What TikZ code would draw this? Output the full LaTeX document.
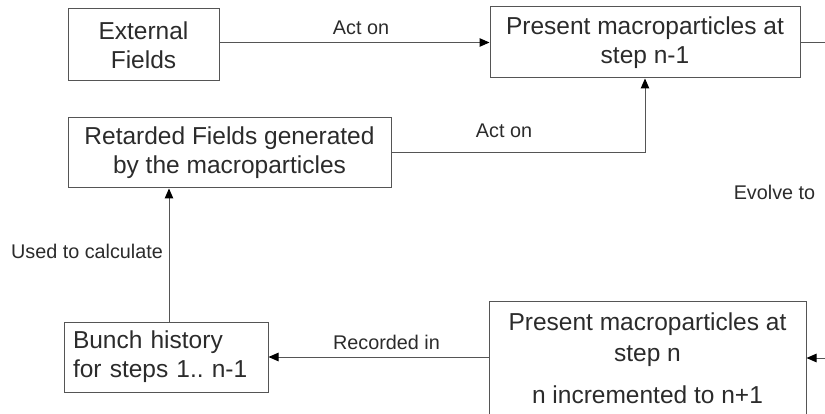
\documentclass[tikz,border=0pt]{standalone}
\usepackage{fontspec}
\setmainfont{Liberation Sans}
\usetikzlibrary{arrows.meta}
\definecolor{textgray}{HTML}{2B2B2B}
\definecolor{linegray}{HTML}{555555}
\newcommand{\boxfont}{\fontsize{24.5}{29}\selectfont\frenchspacing}
\newcommand{\lblfont}{\fontsize{19.8}{24}\selectfont}
\begin{document}
\begin{tikzpicture}[x=1pt,y=-1pt,
  box/.style={draw=linegray, line width=1pt, text=textgray, font=\boxfont, align=center, inner sep=0pt},
  lbl/.style={font=\lblfont, text=textgray, inner sep=0pt},
  plain/.style={draw=linegray, line width=1pt},
  conn/.style={plain, -{Triangle[length=10pt,width=8.5pt,fill=black,color=black]}}]
\clip (0,0) rectangle (825,414);
\useasboundingbox (0,0) rectangle (825,414);
% boxes
\node[box, minimum width=151pt, minimum height=72pt] (ext) at (143.5,45) {External\\Fields};
\node[box, minimum width=310pt, minimum height=71pt] (pn1) at (645,42.5) {Present macroparticles at\\step n-1};
\node[box, minimum width=323pt, minimum height=70pt] (ret) at (229.5,153) {Retarded Fields generated\\by the macroparticles};
\node[box, align=left, text width=186pt, inner xsep=9pt, minimum height=70pt] (bun) at (166,357) {Bunch history\\for steps 1.. n-1};
\node[box, minimum width=317pt, minimum height=115pt] (pn) at (647.5,358.5) {Present macroparticles at\\[2pt]step n\\[13pt]n incremented to n+1};
% free ends
\coordinate (outR) at (825,42.5);
\coordinate (inR) at (825,358);
% connectors
\draw[conn] (ext.east |- pn1.west) -- (pn1.west);
\draw[plain] (pn1.east) -- (outR);
\draw[conn] (ret.east) -| (pn1.south);
\draw[conn] ([xshift=3pt]bun.north) -- ([xshift=3pt]bun.north |- ret.south);
\draw[conn] (pn.west |- bun.east) -- (bun.east);
\draw[conn] (inR) -- (inR -| pn.east);
% labels
\node[lbl] (l1) at (361,28) {Act on};
\node[lbl] (l2) at (504,130.5) {Act on};
\node[lbl] (l3) at (774.5,192) {Evolve to};
\node[lbl] (l4) at (87,251.5) {Used to calculate};
\node[lbl] (l5) at (386.5,342.5) {Recorded in};
\end{tikzpicture}
\end{document}
